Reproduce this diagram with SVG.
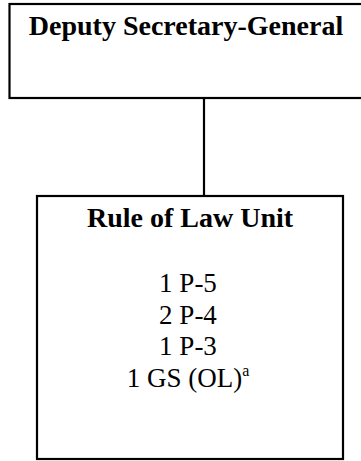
<svg xmlns="http://www.w3.org/2000/svg" width="361" height="461" viewBox="0 0 361 461">
<style>
.box{fill:#fff;stroke:#000;stroke-width:2.2}
.t{font-family:"Liberation Serif","Times New Roman",serif;fill:#000;text-anchor:middle}
.b{font-weight:bold;font-size:28px}
.r{font-size:27px}
.conn{stroke:#000;stroke-width:2.2;fill:none}
</style>
<rect width="361" height="461" fill="#fff"/>
<g id="connectors">
<line class="conn" x1="204" y1="98" x2="204" y2="196"/>
</g>
<g id="dsg">
<rect class="box" x="9.5" y="4" width="400" height="94"/>
<text class="t b" x="186" y="35">Deputy Secretary-General</text>
</g>
<g id="rolu">
<rect class="box" x="37" y="196" width="306" height="263"/>
<text class="t b" x="190" y="227">Rule of Law Unit</text>
<text class="t r" x="188" y="292">1 P-5</text>
<text class="t r" x="188" y="323.5">2 P-4</text>
<text class="t r" x="188" y="355">1 P-3</text>
<text class="t r" x="188" y="387">1 GS (OL)<tspan font-size="16" dy="-11">a</tspan></text>
</g>
</svg>
